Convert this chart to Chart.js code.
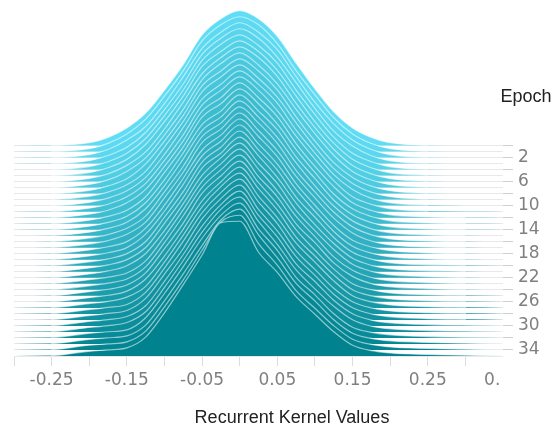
<!DOCTYPE html>
<html>
<head>
<meta charset="utf-8">
<script src="https://cdn.jsdelivr.net/npm/chart.js@4.4.1/dist/chart.umd.min.js"></script>
<style>
  html, body { margin: 0; padding: 0; background: #fff; }
  #wrap { width: 554px; height: 427px; }
</style>
</head>
<body>
<div id="wrap"><canvas id="ridges" width="554" height="427"></canvas></div>
<script>
// ─── Data ──────────────────────────────────────
const epochs = Array.from({ length: 36 }, (_, i) => i);

// kernel value at each histogram point
const kernelBins = [-0.30, -0.25, -0.20, -0.175, -0.15, -0.125, -0.10, -0.075, -0.05, -0.025, 0,
	0.025, 0.05, 0.075, 0.10, 0.125, 0.15, 0.175, 0.20, 0.25, 0.30, 0.35];

// relative height of each ridge (percent of its peak), one row per epoch
const density = [
	[0, 0.1, 2.0, 6.0, 13, 24, 41, 60, 82, 94, 100, 94, 81, 61, 42, 25, 13, 6.0, 2.0, 0.2, 0, 0], // 0
	[0, 0.1, 2.0, 6.0, 13, 24, 41, 60, 82, 94, 100, 94, 80, 60, 42, 25, 13, 5.9, 2.0, 0.2, 0, 0],
	[0, 0.1, 2.1, 5.9, 13, 23, 40, 60, 81, 93, 100, 93, 80, 60, 41, 25, 13, 5.9, 2.0, 0.2, 0, 0],
	[0, 0.1, 2.1, 5.9, 12, 23, 40, 59, 81, 93, 100, 93, 79, 60, 41, 24, 13, 5.8, 2.0, 0.2, 0, 0],
	[0, 0.1, 2.2, 5.8, 12, 23, 40, 59, 81, 93, 100, 92, 79, 59, 41, 24, 12, 5.8, 2.0, 0.2, 0, 0],
	[0, 0.1, 2.2, 5.8, 12, 23, 40, 59, 81, 92, 100, 92, 78, 59, 40, 24, 12, 5.7, 2.0, 0.3, 0, 0], // 5
	[0, 0.1, 2.3, 5.7, 12, 22, 39, 59, 80, 92, 100, 92, 78, 58, 40, 24, 12, 5.7, 2.1, 0.3, 0, 0],
	[0, 0.1, 2.3, 5.7, 12, 22, 39, 58, 80, 92, 100, 91, 77, 58, 40, 24, 12, 5.6, 2.1, 0.3, 0, 0],
	[0, 0.1, 2.3, 5.7, 11, 22, 39, 58, 80, 91, 100, 91, 77, 57, 39, 23, 12, 5.5, 2.1, 0.3, 0, 0],
	[0, 0.1, 2.4, 5.6, 11, 21, 39, 58, 80, 91, 100, 90, 76, 57, 39, 23, 12, 5.5, 2.1, 0.3, 0, 0],
	[0, 0.1, 2.4, 5.6, 11, 21, 38, 58, 79, 90, 100, 90, 76, 56, 39, 23, 12, 5.4, 2.1, 0.4, 0.1, 0], // 10
	[0, 0.1, 2.5, 5.5, 11, 21, 38, 57, 79, 90, 100, 90, 75, 56, 39, 23, 11, 5.4, 2.1, 0.4, 0.1, 0],
	[0, 0.1, 2.5, 5.5, 11, 21, 38, 57, 79, 89, 100, 89, 75, 55, 38, 23, 11, 5.3, 2.1, 0.5, 0.1, 0],
	[0, 0.1, 2.6, 5.4, 10, 20, 38, 57, 79, 89, 100, 89, 74, 55, 38, 22, 11, 5.3, 2.1, 0.5, 0.1, 0],
	[0, 0.1, 2.6, 5.4, 10, 20, 37, 57, 78, 88, 100, 88, 74, 54, 38, 22, 11, 5.2, 2.1, 0.5, 0.1, 0],
	[0, 0.2, 2.6, 5.4, 10, 20, 37, 57, 78, 88, 100, 88, 73, 54, 37, 22, 11, 5.1, 2.1, 0.6, 0.2, 0], // 15
	[0, 0.2, 2.7, 5.3, 10, 19, 37, 56, 78, 88, 100, 88, 73, 53, 37, 22, 11, 5.1, 2.1, 0.6, 0.2, 0],
	[0, 0.2, 2.7, 5.3, 10, 19, 37, 56, 78, 88, 100, 87, 72, 53, 37, 22, 11, 5.0, 2.1, 0.6, 0.2, 0],
	[0, 0.2, 2.8, 5.2, 9, 19, 36, 56, 77, 88, 100, 87, 72, 52, 36, 21, 10, 5.0, 2.2, 0.6, 0.2, 0],
	[0, 0.2, 2.8, 5.2, 9, 19, 36, 56, 77, 88, 100, 86, 71, 52, 36, 21, 10, 4.9, 2.2, 0.6, 0.2, 0],
	[0, 0.2, 2.9, 5.1, 9, 18, 36, 55, 77, 88, 100, 86, 71, 51, 36, 21, 10, 4.9, 2.2, 0.7, 0.3, 0], // 20
	[0, 0.2, 2.9, 5.1, 9, 18, 36, 55, 77, 88, 100, 86, 70, 51, 35, 21, 10, 4.8, 2.2, 0.7, 0.3, 0],
	[0, 0.2, 2.9, 5.1, 9, 18, 35, 55, 76, 89, 100, 85, 70, 50, 35, 21, 10, 4.8, 2.2, 0.8, 0.3, 0],
	[0, 0.2, 3.0, 5.0, 8, 17, 35, 55, 76, 89, 100, 85, 69, 50, 35, 20, 10, 4.7, 2.2, 0.8, 0.3, 0],
	[0, 0.2, 3.0, 5.0, 8, 17, 35, 55, 76, 89, 100, 84, 69, 49, 35, 20, 10, 4.6, 2.2, 0.8, 0.3, 0],
	[0, 0.2, 3.1, 4.9, 8, 17, 35, 54, 76, 89, 100, 84, 68, 49, 34, 20, 9, 4.6, 2.2, 0.9, 0.4, 0], // 25
	[0, 0.2, 3.1, 4.9, 8, 17, 34, 54, 75, 89, 100, 84, 68, 48, 34, 20, 9, 4.5, 2.2, 0.9, 0.4, 0],
	[0, 0.2, 3.2, 4.8, 8, 16, 34, 54, 75, 90, 100, 83, 67, 48, 34, 20, 9, 4.5, 2.2, 0.9, 0.4, 0],
	[0, 0.2, 3.2, 4.8, 7, 16, 34, 54, 75, 90, 100, 83, 67, 47, 33, 19, 9, 4.4, 2.2, 0.9, 0.4, 0],
	[0, 0.2, 3.2, 4.8, 7, 16, 34, 53, 75, 90, 100, 82, 66, 47, 33, 19, 9, 4.4, 2.3, 0.9, 0.4, 0],
	[0, 0.3, 3.3, 4.7, 7, 15, 33, 53, 74, 90, 100, 82, 66, 46, 33, 19, 9, 4.3, 2.3, 1.0, 0.5, 0], // 30
	[0, 0.3, 3.3, 4.7, 7, 15, 33, 53, 74, 91, 100, 82, 65, 46, 32, 19, 9, 4.2, 2.3, 1.0, 0.5, 0],
	[0, 0.3, 3.4, 4.6, 6, 15, 33, 53, 74, 91, 100, 81, 65, 45, 32, 18, 8, 4.2, 2.3, 1.0, 0.5, 0],
	[0, 0.3, 3.4, 4.6, 6, 14, 32, 52, 73, 92, 100, 81, 64, 45, 32, 18, 8, 4.1, 2.3, 1.1, 0.6, 0],
	[0, 0.3, 3.5, 4.5, 6, 14, 32, 52, 74, 95, 100, 79, 63, 44, 31, 18, 8, 4.1, 2.3, 1.1, 0.6, 0],
	[0, 0.3, 3.5, 4.5, 6, 14, 32, 53, 75, 99, 100, 77, 62, 44, 31, 18, 8, 4.0, 2.3, 1.1, 0.6, 0], // 35
];

const xTickValues = [-0.30, -0.25, -0.20, -0.15, -0.10, -0.05, 0, 0.05, 0.10, 0.15, 0.20, 0.25, 0.30, 0.35];
const xTickLabels = ["", "-0.25", "", "-0.15", "", "-0.05", "", "0.05", "", "0.15", "", "0.25", "", "0.\u2007\u2007"];
const yTickLabels = ["2", "6", "10", "14", "18", "22", "26", "30", "34"];

// ─── Helpers ───────────────────────────────────
const RIDGE_HEIGHT = 22.4 / 100; // epochs of height per percent
const topColor = [96, 221, 245];
const bottomColor = [0, 131, 143];

function ridgeColor(e) {
	const t = e / (epochs.length - 1);
	const c = topColor.map((v, i) => Math.round(v + (bottomColor[i] - v) * t));
	return `rgb(${c[0]},${c[1]},${c[2]})`;
}

const datasets = epochs.map((e) => ({
	label: `Epoch ${e}`,
	data: kernelBins.map((x, i) => ({ x, y: e - density[e][i] * RIDGE_HEIGHT })),
	fill: { value: e },
	backgroundColor: ridgeColor(e),
	borderColor: "rgba(255,255,255,0.55)",
	borderWidth: 1.2,
	pointRadius: 0,
	pointHoverRadius: 0,
	cubicInterpolationMode: "monotone",
	order: -e,
	segment: {
		borderColor: (ctx) =>
			e - ctx.p0.parsed.y < 0.1 && e - ctx.p1.parsed.y < 0.1 ? "rgba(255,255,255,0)" : undefined,
	},
}));

// axis titles sit off-centre in the original, so they are drawn here
const axisTitles = {
	id: "axisTitles",
	afterDraw(chart) {
		const { ctx } = chart;
		const y = chart.scales.y;
		ctx.save();
		ctx.font = '18px "Liberation Sans", Arial, sans-serif';
		ctx.fillStyle = "#222";
		ctx.textAlign = "center";
		ctx.textBaseline = "middle";
		ctx.fillText("Epoch", y.left + 23, y.getPixelForValue(-8));
		ctx.fillText("Recurrent Kernel Values", 292, chart.height - 9);
		ctx.restore();
	},
};

// ─── Chart ─────────────────────────────────────
new Chart(document.getElementById("ridges").getContext("2d"), {
	type: "line",
	data: { datasets },
	plugins: [axisTitles],
	options: {
		responsive: false,
		animation: false,
		devicePixelRatio: 1,
		layout: { autoPadding: false, padding: { left: 14, right: 11, top: 5, bottom: 0 } },
		plugins: { legend: { display: false }, tooltip: { enabled: false } },
		scales: {
			x: {
				type: "linear",
				min: -0.30,
				max: 0.35,
				afterBuildTicks: (scale) => {
					scale.ticks = xTickValues.map((value) => ({ value }));
				},
				afterFit: (scale) => {
					scale.height = 71;
					scale.paddingLeft = 0;
					scale.paddingRight = 0;
				},
				border: { display: false },
				grid: {
					drawOnChartArea: false,
					tickLength: 10,
					tickColor: (ctx) => (ctx.index === xTickValues.length - 1 ? "rgba(0,0,0,0)" : "#dcdcdc"),
				},
				ticks: {
					autoSkip: false,
					maxRotation: 0,
					minRotation: 0,
					padding: 4,
					color: "#808080",
					font: { family: "DejaVu Sans", size: 17 },
					callback: (v, i) => xTickLabels[i],
				},
			},
			y: {
				type: "linear",
				position: "right",
				reverse: true,
				min: -23.35,
				max: 35,
				afterBuildTicks: (scale) => {
					scale.ticks = epochs.map((value) => ({ value }));
				},
				afterFit: (scale) => {
					scale.width = 40;
					scale.paddingTop = 0;
					scale.paddingBottom = 0;
				},
				border: { display: false },
				grid: {
					color: "#e9e9e9",
					lineWidth: 1,
					tickLength: 10,
					tickColor: (ctx) => (ctx.tick && ctx.tick.value % 2 === 0 ? "#d0d0d0" : "rgba(0,0,0,0)"),
				},
				ticks: {
					autoSkip: false,
					padding: 5,
					color: "#808080",
					font: { family: "DejaVu Sans", size: 17 },
					callback: (v) => (yTickLabels.includes(String(v)) ? String(v) : ""),
				},
			},
		},
	},
});
</script>
